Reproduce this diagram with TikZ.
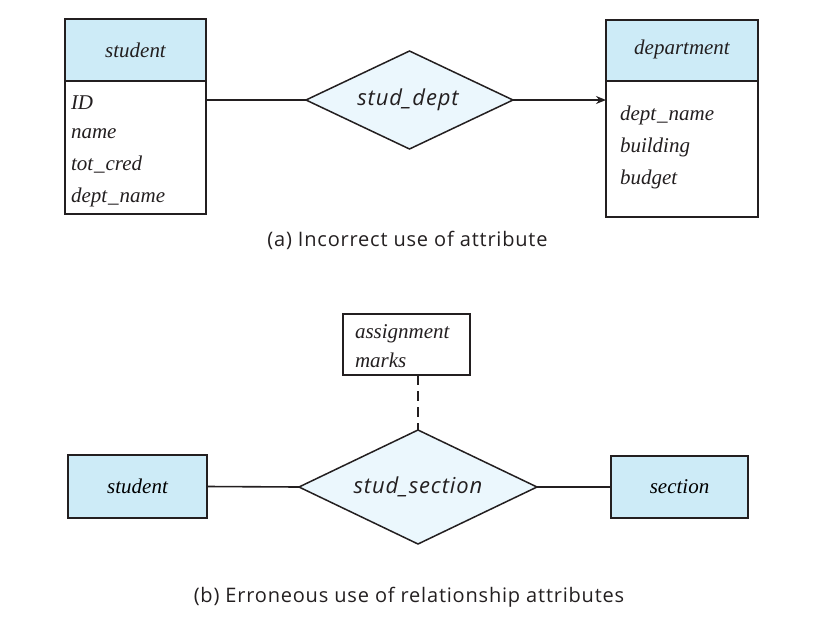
\documentclass[tikz,border=0pt]{standalone}
\usepackage{fontspec}
\setmainfont{Liberation Serif}
\newfontfamily\capfont[LetterSpace=4]{Open Sans}
\usetikzlibrary{shapes.geometric,arrows.meta}
\definecolor{hdr}{RGB}{205,235,247}
\definecolor{dia}{RGB}{235,247,253}
\definecolor{ink}{RGB}{35,31,32}
\newcommand{\us}{\kern1pt\_\kern1pt}
\begin{document}
\begin{tikzpicture}[x=1pt,y=-1pt,
  every node/.style={inner sep=0pt,outer sep=0pt},
  ent/.style={draw=ink,line width=1.8pt,fill=hdr,font=\fontsize{21}{25}\selectfont\itshape},
  body/.style={draw=ink,line width=1.8pt,fill=white},
  attr/.style={anchor=base west,font=\fontsize{21}{25}\selectfont\itshape,text=ink},
  rel/.style={diamond,draw=ink,line width=1.5pt,fill=dia},
  reltext/.style={font=\fontsize{22}{26}\capfont\itshape,text=ink,anchor=base},
  conn/.style={draw=ink,line width=1.6pt},
  captext/.style={font=\fontsize{20}{24}\capfont,text=ink,anchor=base}]
\useasboundingbox (0,0) rectangle (839,630);
% (a)
\node[ent,minimum width=141pt,minimum height=62pt] (s1h) at (135.5,50) {};
\node[attr,anchor=base] at (135.5,57) {student};
\node[body,anchor=north,minimum width=141pt,minimum height=133pt] (s1b) at (s1h.south) {};
\node[attr] (a1) at (71,109) {ID};
\node[attr] (a2) at (71,138) {name};
\node[attr] (a3) at (71,170) {tot\us cred};
\node[attr] (a4) at (71,202) {dept\us name};
\node[ent,minimum width=152pt,minimum height=61pt] (dh) at (682,50.5) {};
\node[attr,anchor=base] at (682,54) {department};
\node[body,anchor=north,minimum width=152pt,minimum height=136pt] (db) at (dh.south) {};
\node[attr] (b1) at (620,120) {dept\us name};
\node[attr] (b2) at (620,152) {building};
\node[attr] (b3) at (620,184) {budget};
\node[rel,minimum width=207pt,minimum height=98pt] (r1) at (409.5,100) {};
\node[reltext] (r1t) at (408,105) {stud\_dept};
\coordinate (s1p) at (s1b.east |- r1.west);
\coordinate (dp) at (db.west |- r1.east);
\draw[conn] (s1p) -- (r1.west);
\draw[conn,-{Stealth[length=10pt,width=8pt]}] (r1.east) -- (dp);
\node[captext] (capa) at (407.5,246) {(a) Incorrect use of attribute};
% (b)
\node[draw=ink,line width=1.5pt,fill=white,minimum width=127pt,minimum height=61pt] (attb) at (406.5,344.5) {};
\node[attr] (c1) at (355,338) {assignment};
\node[attr] (c2) at (355,367) {marks};
\node[rel,minimum width=238pt,minimum height=114pt] (r2) at (418,487) {};
\node[reltext] (r2t) at (418,493) {stud\_section};
\node[ent,minimum width=139pt,minimum height=63pt] (s2) at (137.5,486.5) {student};
\node[ent,minimum width=137pt,minimum height=62pt] (sec) at (679.5,487) {section};
\draw[conn,dash pattern=on 10pt off 6pt] (r2.north |- attb.south) -- (r2.north);
\draw[conn] (s2.east) -- (r2.west);
\draw[conn] (r2.east) -- (sec.west);
\node[captext] (capb) at (409,602) {(b) Erroneous use of relationship attributes};
\end{tikzpicture}
\end{document}
